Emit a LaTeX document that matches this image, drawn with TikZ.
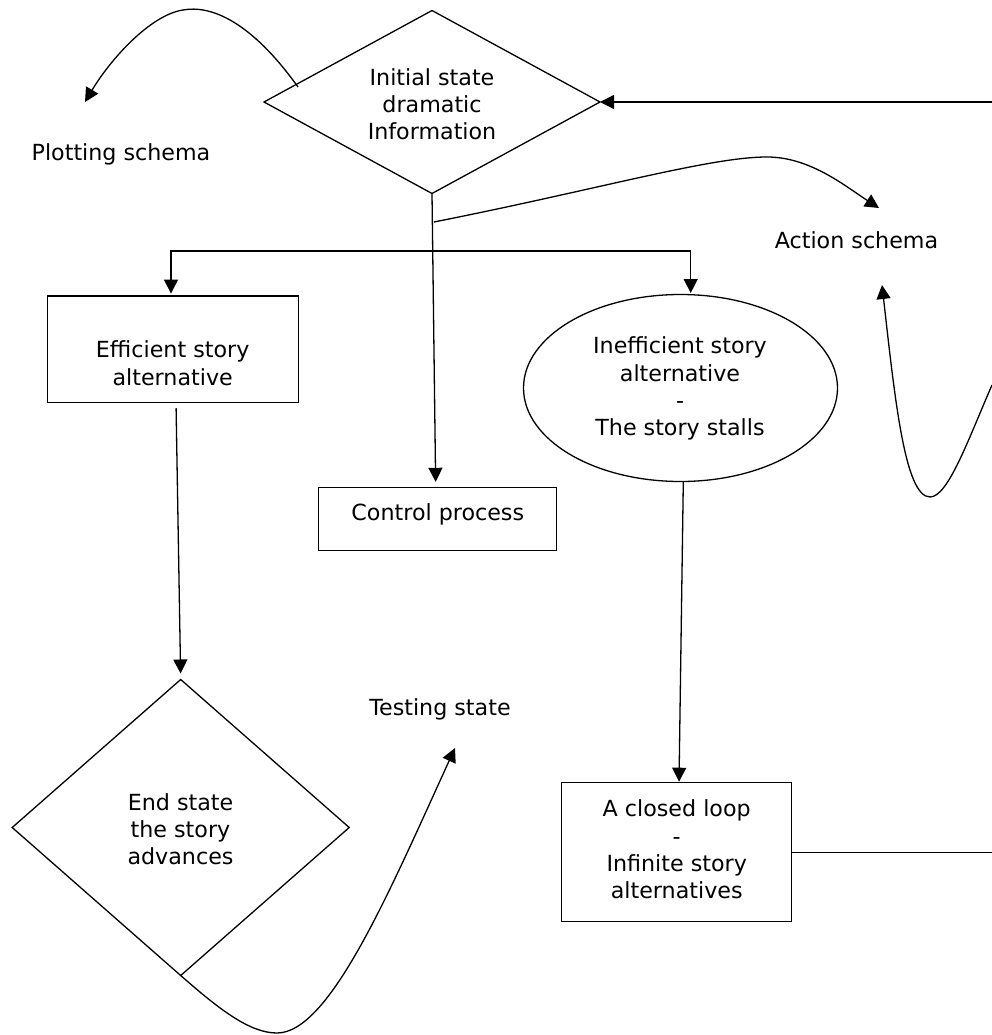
\documentclass[tikz,border=0pt]{standalone}
\usepackage{fontspec}
\setmainfont{DejaVu Sans}
\usetikzlibrary{shapes.geometric,arrows.meta,calc}

\tikzset{
  every path/.style={line width=1.3pt},
  arr/.style={-{Triangle[length=14pt,width=14pt]}},
  outline/.style={draw, inner sep=0pt, outer sep=0pt},
  box/.style={outline, rectangle},
  decision/.style={outline, diamond},
  oval/.style={outline, ellipse},
  txt/.style={font=\fontsize{22.2}{27.3}\selectfont, align=center, inner sep=0pt, text depth=0pt}
}

\begin{document}
\begin{tikzpicture}[x=1pt,y=-1pt]
  \useasboundingbox (0,0) rectangle (992,1035);

  % shapes
  \node[decision, minimum width=336pt, minimum height=183pt] (topd) at (432,102) {};
  \node[box, minimum width=251pt, minimum height=106.7pt] (eff) at (172.8,349.4) {};
  \node[box, minimum width=238.4pt, minimum height=63.4pt] (ctrl) at (437.5,519) {};
  \node[oval, minimum width=314pt, minimum height=187pt] (ineff) at (680.5,388) {};
  \node[decision, minimum width=337pt, minimum height=296pt] (endd) at (180.7,827.5) {};
  \node[box, minimum width=230pt, minimum height=139pt] (closed) at (676.7,852.2) {};

  % texts inside the shapes
  \node[txt] (topdt) at (432,104) {Initial state\\dramatic\\Information};
  \node[txt] (efft) at (172.7,363) {Efficient story\\alternative};
  \node[txt] (ctrlt) at (437.8,512) {Control process};
  \node[txt] (inefft) at (680,386.5) {Inefficient story\\alternative\\-\\The story stalls};
  \node[txt] (endt) at (180.5,829) {End state\\the story\\advances};
  \node[txt] (closedt) at (676.7,849.5) {A closed loop\\-\\Infinite story\\alternatives};

  % free labels
  \node[txt] (plot) at (121,152) {Plotting schema};
  \node[txt] (action) at (856.5,240) {Action schema};
  \node[txt] (testing) at (440,707.5) {Testing state};

  % auxiliary points
  \coordinate (jA) at (434,222);
  \coordinate (jB) at (434.5,251);
  \coordinate (pc0) at (298,87);
  \coordinate (pc1) at (183,10);
  \coordinate (pcTip) at (85,102);
  \coordinate (acPeak) at (767,157);
  \coordinate (acTip) at (879,208);
  \coordinate (rc0) at (992,385);
  \coordinate (rcLow) at (930,497);
  \coordinate (rcTip) at (882,285);
  \coordinate (btLow) at (277,1033);
  \coordinate (btTip) at (455,748);
  \coordinate (edgeTop) at (992,102);
  \coordinate (edgeLow) at (992,852.2);

  % main trunk and branches
  \draw[arr, shorten >=5.5pt] (topd.south) -- ([xshift=-1.8pt]ctrl.north);
  \draw[arr, shorten >=2.5pt] (jB) -| ([xshift=-1.8pt]eff.north);
  \draw[arr, shorten >=1.5pt] (jB) -| ([xshift=10.2pt]ineff.north);
  \draw[arr, shorten <=5.5pt, shorten >=6pt] ([xshift=3.2pt]eff.south) -- (endd.north);
  \draw[arr, shorten >=1pt] ([xshift=2.8pt]ineff.south) -- ([xshift=2.3pt]closed.north);

  % feedback lines running off the right side
  \draw[arr] (edgeTop) -- (topd.east);
  \draw (closed.east) -- (edgeLow);

  % curved arrows
  \draw[arr] (pc0) .. controls (250,20) and (210,5) .. (pc1)
             .. controls (150,15) and (110,60) .. (pcTip);
  \draw[arr] (jA) .. controls (600,189) and (710,157) .. (acPeak)
             .. controls (810,157) and (845,186) .. (acTip);
  \draw[arr] (rc0) .. controls (968,440) and (948,497) .. (rcLow)
             .. controls (905,497) and (895,400) .. (rcTip);
  \draw[arr] (endd.south) .. controls (220,1010) and (250,1033) .. (btLow)
             .. controls (330,1033) and (390,890) .. (btTip);
\end{tikzpicture}
\end{document}
